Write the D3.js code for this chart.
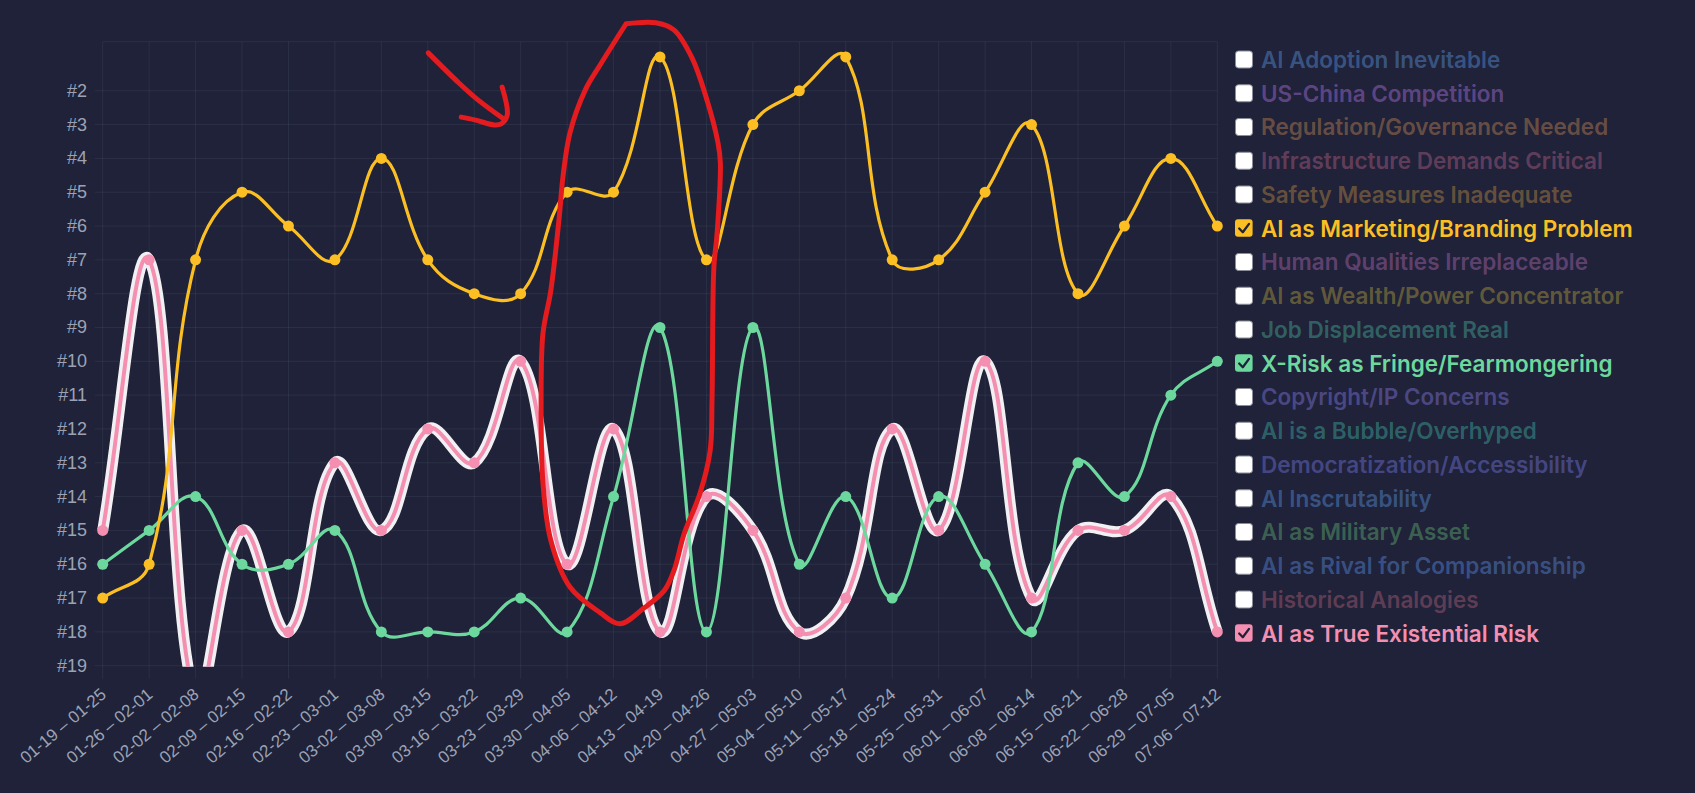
<!DOCTYPE html>
<html>
<head>
<meta charset="utf-8">
<script src="https://cdn.jsdelivr.net/npm/d3@7"></script>
<style>
  html, body { margin: 0; padding: 0; background: #1f2238; overflow: hidden; }
  svg { display: block; }
</style>
</head>
<body>
<svg id="chart" width="1695" height="793"></svg>
<script>
// ---------------- DATA ----------------
const weeks = [
  "01-19 – 01-25", "01-26 – 02-01", "02-02 – 02-08", "02-09 – 02-15", "02-16 – 02-22",
  "02-23 – 03-01", "03-02 – 03-08", "03-09 – 03-15", "03-16 – 03-22", "03-23 – 03-29",
  "03-30 – 04-05", "04-06 – 04-12", "04-13 – 04-19", "04-20 – 04-26", "04-27 – 05-03",
  "05-04 – 05-10", "05-11 – 05-17", "05-18 – 05-24", "05-25 – 05-31", "06-01 – 06-07",
  "06-08 – 06-14", "06-15 – 06-21", "06-22 – 06-28", "06-29 – 07-05", "07-06 – 07-12"
];

const topics = [
  "AI Adoption Inevitable", "US-China Competition", "Regulation/Governance Needed",
  "Infrastructure Demands Critical", "Safety Measures Inadequate", "AI as Marketing/Branding Problem",
  "Human Qualities Irreplaceable", "AI as Wealth/Power Concentrator", "Job Displacement Real",
  "X-Risk as Fringe/Fearmongering", "Copyright/IP Concerns", "AI is a Bubble/Overhyped",
  "Democratization/Accessibility", "AI Inscrutability", "AI as Military Asset",
  "AI as Rival for Companionship", "Historical Analogies", "AI as True Existential Risk"
];

const topicColors = [
  "#62a6fa", "#c37ffb", "#dc955a", "#cc6a93", "#d99c46", "#fbbf24",
  "#c873c4", "#ccb53c", "#4fc8a8", "#6dd89e", "#9585fb", "#45c6b6",
  "#8484fb", "#62a2f8", "#6cc778", "#629cfb", "#c86884", "#f48fb1"
];

const shownTopics = ["AI as Marketing/Branding Problem", "X-Risk as Fringe/Fearmongering", "AI as True Existential Risk"];
const highlightedTopic = "AI as True Existential Risk";

const marketingRanks   = [17, 16, 7, 5, 6, 7, 4, 7, 8, 8, 5, 5, 1, 7, 3, 2, 1, 7, 7, 5, 3, 8, 6, 4, 6];
const xriskFringeRanks = [16, 15, 14, 16, 16, 15, 18, 18, 18, 17, 18, 14, 9, 18, 9, 16, 14, 17, 14, 16, 18, 13, 14, 11, 10];
const existentialRanks = [15, 7, 20, 15, 18, 13, 15, 12, 13, 10, 16, 12, 18, 14, 15, 18, 17, 12, 15, 10, 17, 15, 15, 14, 18];

const rankTicks = [2, 3, 4, 5, 6, 7, 8, 9, 10, 11, 12, 13, 14, 15, 16, 17, 18, 19];

// hand-drawn annotation, in data space (week index, rank)
const annotationLoop = [
  [11.27, 0.02], [11.91, -0.01], [12.30, 0.20], [12.69, 1.03], [12.99, 2.18], [13.25, 3.55],
  [13.30, 4.14], [13.23, 6.21], [13.16, 7.22], [13.12, 11.16], [13.08, 12.64], [12.86, 13.91],
  [12.52, 15.10], [12.30, 16.19], [12.09, 16.78], [11.66, 17.29], [11.14, 17.76], [10.71, 17.43],
  [10.07, 16.69], [9.65, 15.30], [9.48, 13.61], [9.44, 11.16], [9.48, 9.17], [9.65, 7.90],
  [9.83, 5.74], [9.91, 4.55], [10.06, 3.25], [10.39, 1.98], [10.71, 1.24], [11.27, 0.02]
];
const annotationArrowShaft = [[7.01, 0.88], [7.67, 1.77], [8.08, 2.27], [8.66, 2.86]];
const annotationArrowHead = [[8.60, 1.89], [8.71, 2.72], [8.58, 2.98], [8.43, 3.01], [8.01, 2.86], [7.72, 2.78]];

const series = [
  { name: "AI as Marketing/Branding Problem", values: marketingRanks },
  { name: "X-Risk as Fringe/Fearmongering", values: xriskFringeRanks },
  { name: "AI as True Existential Risk", values: existentialRanks }
];

// ---------------- LAYOUT ----------------
const W = 1695, H = 793;
const area = { left: 102.7, right: 1217.3, top: 41.7, bottom: 665.7 };
const BG = "#1f2238";
const GRID = "rgba(148,163,184,0.11)";
const TICK_TEXT = "#9ba2b6";

const svg = d3.select("#chart");
svg.append("rect").attr("width", W).attr("height", H).attr("fill", BG);

const x = d3.scalePoint().domain(weeks).range([area.left, area.right]);
const xi = d3.scaleLinear().domain([0, weeks.length - 1]).range([area.left, area.right]);
const y = d3.scaleLinear().domain([0.55, 19]).range([area.top, area.bottom]);

// grid
const grid = svg.append("g");
grid.append("line").attr("x1", area.left).attr("x2", area.right)
  .attr("y1", area.top).attr("y2", area.top).attr("stroke", GRID).attr("stroke-width", 1);
grid.selectAll("line.h").data(rankTicks).join("line").attr("class", "h")
  .attr("x1", area.left - 8).attr("x2", area.right)
  .attr("y1", d => y(d)).attr("y2", d => y(d))
  .attr("stroke", GRID).attr("stroke-width", 1);
grid.selectAll("line.v").data(weeks).join("line").attr("class", "v")
  .attr("x1", d => x(d)).attr("x2", d => x(d))
  .attr("y1", area.top).attr("y2", area.bottom + 13)
  .attr("stroke", GRID).attr("stroke-width", 1);

// y axis labels
svg.append("g").selectAll("text").data(rankTicks).join("text")
  .attr("x", 87).attr("y", d => y(d))
  .attr("text-anchor", "end").attr("dominant-baseline", "central")
  .attr("fill", TICK_TEXT)
  .style("font-family", "'Liberation Sans', Arial, sans-serif").style("font-size", "18px")
  .text(d => "#" + d);

// x axis labels
svg.append("g").selectAll("text").data(weeks).join("text")
  .attr("transform", d => `translate(${x(d) + 1},${692}) rotate(-40)`)
  .attr("text-anchor", "end").attr("dominant-baseline", "central")
  .attr("fill", TICK_TEXT)
  .style("font-family", "'Liberation Sans', Arial, sans-serif").style("font-size", "17px")
  .text(d => d);

// Chart.js-like spline (tension 0.4, control points capped to chart area)
function chartjsSpline(tension, box) {
  return function (context) {
    let pts = [];
    return {
      areaStart() {}, areaEnd() {},
      lineStart() { pts = []; },
      point(px, py) { pts.push({ x: +px, y: +py }); },
      lineEnd() {
        const n = pts.length;
        if (!n) return;
        let prev = pts[0];
        for (let i = 0; i < n; i++) {
          const cur = pts[i], next = pts[Math.min(i + 1, n - 1)];
          const d01 = Math.hypot(cur.x - prev.x, cur.y - prev.y);
          const d12 = Math.hypot(next.x - cur.x, next.y - cur.y);
          let s01 = d01 / (d01 + d12), s12 = d12 / (d01 + d12);
          if (isNaN(s01)) s01 = 0;
          if (isNaN(s12)) s12 = 0;
          const fa = tension * s01, fb = tension * s12;
          cur.cp1x = cur.x - fa * (next.x - prev.x);
          cur.cp1y = cur.y - fa * (next.y - prev.y);
          cur.cp2x = cur.x + fb * (next.x - prev.x);
          cur.cp2y = cur.y + fb * (next.y - prev.y);
          prev = cur;
        }
        const inA = p => p.x >= box.left - 0.5 && p.x <= box.right + 0.5 && p.y >= box.top - 0.5 && p.y <= box.bottom + 0.5;
        const clamp = (v, a, b) => Math.max(a, Math.min(b, v));
        for (let i = 0; i < n; i++) {
          const p = pts[i];
          if (!inA(p)) continue;
          if (i > 0 && inA(pts[i - 1])) {
            p.cp1x = clamp(p.cp1x, box.left, box.right);
            p.cp1y = clamp(p.cp1y, box.top, box.bottom);
          }
          if (i < n - 1 && inA(pts[i + 1])) {
            p.cp2x = clamp(p.cp2x, box.left, box.right);
            p.cp2y = clamp(p.cp2y, box.top, box.bottom);
          }
        }
        context.moveTo(pts[0].x, pts[0].y);
        for (let i = 1; i < n; i++) {
          const a = pts[i - 1], b = pts[i];
          context.bezierCurveTo(a.cp2x, a.cp2y, b.cp1x, b.cp1y, b.x, b.y);
        }
      }
    };
  };
}

svg.append("defs").append("clipPath").attr("id", "plotClip")
  .append("rect").attr("x", area.left - 10).attr("y", area.top - 10)
  .attr("width", area.right - area.left + 20).attr("height", area.bottom - area.top + 11);

const line = d3.line()
  .x((d, i) => x(weeks[i]))
  .y(d => y(d))
  .curve(chartjsSpline(0.4, area));

const colorOf = name => topicColors[topics.indexOf(name)];
const plot = svg.append("g").attr("clip-path", "url(#plotClip)");

// draw in reverse legend order (Chart.js paints later datasets underneath)
series.slice().reverse().forEach(s => {
  const c = colorOf(s.name);
  const g = plot.append("g");
  if (s.name === highlightedTopic) {
    g.append("path").attr("d", line(s.values)).attr("fill", "none")
      .attr("stroke", "#f1f1f4").attr("stroke-width", 11).attr("stroke-linejoin", "round");
    g.append("path").attr("d", line(s.values)).attr("fill", "none")
      .attr("stroke", c).attr("stroke-width", 4).attr("stroke-linejoin", "round");
  } else {
    g.append("path").attr("d", line(s.values)).attr("fill", "none")
      .attr("stroke", c).attr("stroke-width", 3.2).attr("stroke-linejoin", "round");
  }
  g.selectAll("circle").data(s.values).join("circle")
    .attr("cx", (d, i) => x(weeks[i])).attr("cy", d => y(d))
    .attr("r", 5.5).attr("fill", c);
});

// legend
const legend = svg.append("g");
const rowY = i => 59.3 + i * 33.75;
topics.forEach((t, i) => {
  const c = topicColors[i];
  const on = shownTopics.includes(t);
  const cy = rowY(i);
  const row = legend.append("g");
  if (on) {
    row.append("rect").attr("x", 1235).attr("y", cy - 8.8).attr("width", 17.6).attr("height", 17.6)
      .attr("rx", 3).attr("fill", c);
    row.append("path")
      .attr("d", `M${1239.2},${cy + 0.5} L${1242.8},${cy + 4.2} L${1249},${cy - 4.2}`)
      .attr("fill", "none").attr("stroke", "#1f2238").attr("stroke-width", 2.3)
      .attr("stroke-linecap", "round").attr("stroke-linejoin", "round");
  } else {
    row.append("rect").attr("x", 1235.5).attr("y", cy - 8.3).attr("width", 17).attr("height", 17)
      .attr("rx", 3).attr("fill", "#ffffff").attr("stroke", "#8a8d99").attr("stroke-width", 1);
  }
  row.append("text").attr("x", 1261).attr("y", cy)
    .attr("dominant-baseline", "central")
    .attr("fill", c).attr("fill-opacity", on ? 1 : 0.4)
    .style("font-family", "Inter, 'Noto Sans', sans-serif")
    .style("font-weight", 600).style("font-size", "22.5px")
    .text(t);
});

// hand-drawn red annotation
const annot = d3.line().x(d => xi(d[0])).y(d => y(d[1])).curve(d3.curveCatmullRom.alpha(0.5));
const ann = svg.append("g").attr("fill", "none").attr("stroke", "#e41b1f")
  .attr("stroke-width", 5).attr("stroke-linecap", "round").attr("stroke-linejoin", "round");
ann.append("path").attr("d", annot(annotationLoop));
ann.append("path").attr("d", annot(annotationArrowShaft));
ann.append("path").attr("d", annot(annotationArrowHead));
</script>
</body>
</html>
